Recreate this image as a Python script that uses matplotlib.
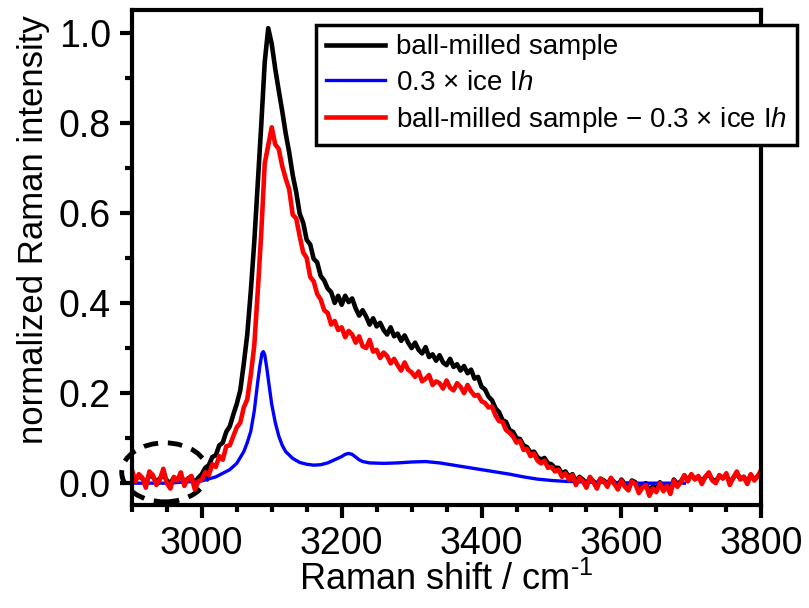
import matplotlib
matplotlib.use("Agg")
import matplotlib.pyplot as plt
from matplotlib.patches import Ellipse
import numpy as np

plt.rcParams['font.family'] = ['Liberation Sans', 'DejaVu Sans']
plt.rcParams['mathtext.fontset'] = 'custom'
plt.rcParams['mathtext.rm'] = 'Liberation Sans'
plt.rcParams['mathtext.it'] = 'Liberation Sans:italic'

# wavenumber grid of the measured spectra (cm-1)
shift = np.arange(2900, 3801, 5)

# ball-milled sample (normalized)
milled = [
    0.022, 0.008, 0.016, 0.010, 0.000, 0.018, 0.014, 0.004, 0.010, 0.020,
    0.006, 0.000, 0.012, 0.008, 0.016, 0.002, 0.010, 0.014, 0.000, 0.012,
    0.020, 0.034, 0.040, 0.058, 0.062, 0.084, 0.090, 0.114, 0.126, 0.152,
    0.176, 0.206, 0.265, 0.330, 0.425, 0.535, 0.665, 0.795, 0.935, 1.010,
    0.975, 0.920, 0.872, 0.826, 0.776, 0.734, 0.684, 0.646, 0.598, 0.578,
    0.540, 0.530, 0.498, 0.490, 0.460, 0.450, 0.432, 0.424, 0.400, 0.416,
    0.396, 0.416, 0.402, 0.410, 0.388, 0.372, 0.384, 0.370, 0.352, 0.366,
    0.348, 0.356, 0.340, 0.330, 0.346, 0.326, 0.332, 0.316, 0.328, 0.312,
    0.300, 0.312, 0.296, 0.288, 0.302, 0.280, 0.286, 0.272, 0.284, 0.268,
    0.262, 0.276, 0.258, 0.264, 0.250, 0.260, 0.244, 0.252, 0.232, 0.236,
    0.214, 0.208, 0.192, 0.184, 0.166, 0.158, 0.140, 0.136, 0.118, 0.114,
    0.100, 0.098, 0.084, 0.080, 0.068, 0.070, 0.058, 0.052, 0.056, 0.044,
    0.042, 0.034, 0.034, 0.022, 0.026, 0.014, 0.020, 0.004, 0.014, 0.008,
    -0.002, 0.012, 0.004, -0.004, 0.010, 0.006, -0.002, 0.010, 0.002, -0.006,
    0.008, -0.002, -0.010, 0.006, 0.002, -0.014, -0.004, 0.000, -0.018, -0.006,
    -0.012, 0.002, -0.010, -0.002, -0.016, 0.008, -0.002, 0.004, 0.016, 0.008,
    0.018, 0.010, 0.014, 0.004, 0.014, 0.020, 0.008, 0.004, 0.016, 0.012,
    0.018, 0.002, 0.012, 0.022, 0.010, 0.014, 0.002, 0.018, 0.008, 0.016,
    0.024,
]

# ball-milled sample - 0.3 x ice Ih
difference = [
    0.030, 0.004, 0.020, 0.012, -0.010, 0.026, 0.018, -0.004, 0.008, 0.032,
    0.000, -0.012, 0.014, 0.006, 0.024, -0.006, 0.010, 0.016, -0.014, 0.004,
    0.008, 0.024, 0.018, 0.042, 0.036, 0.060, 0.052, 0.082, 0.084, 0.104,
    0.124, 0.134, 0.168, 0.186, 0.240, 0.305, 0.425, 0.555, 0.710, 0.750,
    0.790, 0.752, 0.742, 0.704, 0.676, 0.652, 0.596, 0.588, 0.548, 0.512,
    0.500, 0.458, 0.448, 0.420, 0.408, 0.384, 0.378, 0.352, 0.360, 0.340,
    0.346, 0.324, 0.338, 0.330, 0.312, 0.326, 0.304, 0.300, 0.318, 0.292,
    0.296, 0.278, 0.290, 0.282, 0.266, 0.276, 0.262, 0.250, 0.268, 0.252,
    0.246, 0.236, 0.248, 0.226, 0.232, 0.240, 0.218, 0.226, 0.222, 0.210,
    0.228, 0.212, 0.206, 0.222, 0.214, 0.200, 0.218, 0.204, 0.194, 0.196,
    0.182, 0.178, 0.168, 0.170, 0.150, 0.138, 0.136, 0.118, 0.112, 0.104,
    0.090, 0.094, 0.074, 0.076, 0.060, 0.066, 0.050, 0.044, 0.050, 0.034,
    0.036, 0.026, 0.030, 0.014, 0.022, 0.008, 0.018, -0.004, 0.012, 0.004,
    -0.010, 0.014, 0.002, -0.012, 0.010, 0.004, -0.008, 0.012, -0.002, -0.014,
    0.006, -0.008, -0.016, 0.004, -0.002, -0.022, -0.010, -0.004, -0.028, -0.012,
    -0.020, 0.000, -0.018, -0.006, -0.024, 0.006, -0.008, 0.002, 0.018, 0.004,
    0.020, 0.008, 0.016, -0.002, 0.014, 0.024, 0.006, 0.000, 0.018, 0.010,
    0.022, -0.004, 0.012, 0.026, 0.008, 0.014, -0.002, 0.020, 0.006, 0.016,
    0.030,
]

# 0.3 x ice Ih reference spectrum
ice_shift = [2900, 2950, 3000, 3020, 3040, 3050, 3060, 3065, 3070, 3075,
             3080, 3083, 3086, 3088, 3090, 3093, 3096, 3100, 3105, 3110,
             3115, 3120, 3130, 3140, 3150, 3160, 3170, 3180, 3190, 3200,
             3205, 3210, 3215, 3220, 3225, 3230, 3240, 3260, 3280, 3300,
             3320, 3340, 3360, 3380, 3400, 3420, 3440, 3460, 3480, 3500,
             3520, 3540, 3560, 3580, 3600, 3620, 3640, 3660, 3690]
ice = [0.000, 0.000, 0.005, 0.014, 0.030, 0.044, 0.070, 0.090, 0.115, 0.160,
       0.225, 0.260, 0.288, 0.292, 0.285, 0.255, 0.220, 0.175, 0.135, 0.105,
       0.084, 0.070, 0.055, 0.046, 0.042, 0.040, 0.041, 0.045, 0.052, 0.059,
       0.064, 0.066, 0.064, 0.058, 0.052, 0.048, 0.045, 0.044, 0.045, 0.047,
       0.048, 0.045, 0.040, 0.035, 0.030, 0.025, 0.020, 0.014, 0.009, 0.006,
       0.004, 0.003, 0.002, 0.002, 0.001, 0.000, 0.000, 0.000, 0.000]

labels = ["ball-milled sample",
          "0.3 \u00d7 ice I$\\mathit{h}$",
          "ball-milled sample \u2212 0.3 \u00d7 ice I$\\mathit{h}$"]

fig = plt.figure(figsize=(8.09, 6.08), dpi=100)
ax = fig.add_axes([0.163, 0.169, 0.778, 0.815])

ax.plot(shift, milled, color="black", lw=3.3, label=labels[0])
ax.plot(ice_shift, ice, color="blue", lw=2.4, label=labels[1])
ax.plot(shift, difference, color="red", lw=3.3, label=labels[2])

ax.add_patch(Ellipse((2947, 0.024), 123, 0.131, fill=False, ec="black",
                     lw=3.5, ls=(0, (3, 2)), clip_on=False))

ax.set_xlim(2900, 3800)
ax.set_ylim(-0.049, 1.051)
ax.set_xticks(np.arange(3000, 3801, 200))
ax.set_xticks(np.arange(2900, 3801, 50), minor=True)
ax.set_yticks(np.arange(0, 1.01, 0.2))
ax.set_yticks(np.arange(0, 1.01, 0.1), minor=True)
ax.yaxis.set_major_formatter(matplotlib.ticker.FormatStrFormatter("%.1f"))

for s in ax.spines.values():
    s.set_linewidth(3)
ax.tick_params(which="major", direction="out", length=9, width=3,
               labelsize=27, pad=6)
ax.tick_params(which="minor", direction="out", length=5, width=3)

ax.set_xlabel("Raman shift / cm$^{\\text{-}1}$", fontsize=26, labelpad=0)
ax.set_ylabel("normalized Raman intensity", fontsize=25)
ax.yaxis.set_label_coords(-0.13, 0.556)

leg = ax.legend(loc="upper right", bbox_to_anchor=(1.057, 0.970),
                fontsize=20, frameon=True, fancybox=False, framealpha=1,
                edgecolor="black", handlelength=2.15, handletextpad=0.4,
                labelspacing=0.34, borderaxespad=0, borderpad=0.35)
leg.get_frame().set_linewidth(2.5)
leg.set_clip_on(False)

fig.savefig("out.png", dpi=100)
